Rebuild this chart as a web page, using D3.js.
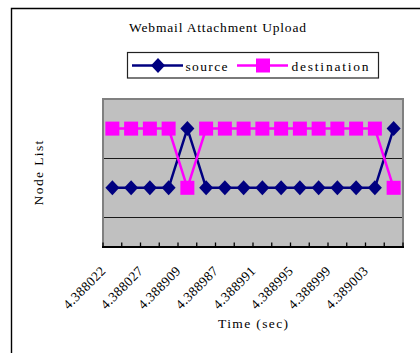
<!DOCTYPE html>
<html>
<head>
<meta charset="utf-8">
<script src="https://cdn.jsdelivr.net/npm/d3@7"></script>
<style>
  html, body { margin: 0; padding: 0; background: #fff; }
  svg { display: block; }
  text { font-family: "Liberation Serif", "DejaVu Serif", serif; font-size: 13.5px; fill: #000; }
</style>
</head>
<body>
<svg id="chart" width="420" height="353"></svg>
<script>
// Packet timestamps (seconds) for each captured event
const categories = [
  "4.388022", "4.388024", "4.388027", "4.388030",
  "4.388909", "4.388983", "4.388987", "4.388989",
  "4.388991", "4.388993", "4.388995", "4.388997",
  "4.388999", "4.389001", "4.389003", "4.389005"
];
// Node index of the sender / receiver at each timestamp
const sourceValues      = [1, 1, 1, 1, 2, 1, 1, 1, 1, 1, 1, 1, 1, 1, 1, 2];
const destinationValues = [2, 2, 2, 2, 1, 2, 2, 2, 2, 2, 2, 2, 2, 2, 2, 1];
// Only every other timestamp is labelled on the axis
const tickLabels = categories.filter((d, i) => i % 2 === 0);
// Horizontal separators between node rows
const gridValues = [0.5, 1.5];
const seriesNames = ["source", "destination"];

const svg = d3.select("#chart");
const plot = { left: 103, right: 403, top: 99, bottom: 247 };
const CHAR_W = 7; // fixed advance per character, monospaced look

// Text helper: fixed-pitch spacing through textLength
function label(sel, str, perChar) {
  return sel.text(str)
    .attr("textLength", str.length * (perChar || CHAR_W))
    .attr("lengthAdjust", "spacing");
}

// Outer chart frame (top and left edges visible)
svg.append("path")
  .attr("d", "M11.5,353 L11.5,8.5 L420,8.5")
  .attr("fill", "none").attr("stroke", "#000").attr("stroke-width", 1.4);

// Title
label(svg.append("text").attr("x", 129).attr("y", 32), "Webmail Attachment Upload", 7.08);

// Scales
const x = d3.scaleBand().domain(categories).range([plot.left, plot.right]).padding(0);
const y = d3.scaleLinear().domain([0, 2.5]).range([plot.bottom, plot.top]);
const cx = d => x(d) + x.bandwidth() / 2;

// Plot area background
svg.append("rect")
  .attr("x", plot.left).attr("y", plot.top)
  .attr("width", plot.right - plot.left).attr("height", plot.bottom - plot.top)
  .attr("fill", "#c0c0c0");

// Gridlines
svg.append("g").selectAll("line").data(gridValues).join("line")
  .attr("x1", plot.left).attr("x2", plot.right)
  .attr("y1", d => Math.round(y(d)) + 0.5).attr("y2", d => Math.round(y(d)) + 0.5)
  .attr("stroke", "#1a1a1a").attr("stroke-width", 1.2);

// Plot area border (left, top, right)
svg.append("path")
  .attr("d", `M${plot.left},${plot.bottom} L${plot.left},${plot.top} L${plot.right},${plot.top} L${plot.right},${plot.bottom}`)
  .attr("fill", "none").attr("stroke", "#808080").attr("stroke-width", 2);

// Category axis with inward ticks at band boundaries
const axisG = svg.append("g");
axisG.append("line")
  .attr("x1", plot.left - 1).attr("x2", plot.right + 1)
  .attr("y1", plot.bottom).attr("y2", plot.bottom)
  .attr("stroke", "#000").attr("stroke-width", 2);
const boundaries = categories.map(d => x(d)).concat([plot.right]);
axisG.selectAll("line.tick").data(boundaries).join("line")
  .attr("class", "tick")
  .attr("x1", d => d).attr("x2", d => d)
  .attr("y1", plot.bottom).attr("y2", plot.bottom - 4.5)
  .attr("stroke", "#000").attr("stroke-width", 1.3);

// Rotated tick labels
axisG.selectAll("text.lbl").data(tickLabels).join("text")
  .attr("class", "lbl")
  .attr("text-anchor", "end")
  .attr("transform", d => `translate(${cx(d) - 6},${plot.bottom + 25}) rotate(-45)`)
  .each(function (d) { label(d3.select(this), d, 6.7); });

// Axis titles
label(svg.append("text").attr("x", 218).attr("y", 328), "Time (sec)");
svg.append("text")
  .attr("transform", `translate(43,${(plot.top + plot.bottom) / 2}) rotate(-90)`)
  .attr("text-anchor", "middle")
  .call(s => label(s, "Node List", 7.2));

// Marker shapes
const diamond = (g, px, py) => g.append("path")
  .attr("d", `M${px},${py - 7.5} L${px + 7},${py} L${px},${py + 7.5} L${px - 7},${py} Z`)
  .attr("fill", "#000080");
const square = (g, px, py) => g.append("rect")
  .attr("x", px - 7).attr("y", py - 7).attr("width", 14).attr("height", 14)
  .attr("fill", "#ff00ff");

const line = d3.line().x(d => cx(d.c)).y(d => y(d.v));
const sourcePts = categories.map((c, i) => ({ c, v: sourceValues[i] }));
const destPts = categories.map((c, i) => ({ c, v: destinationValues[i] }));

// Source series
const sG = svg.append("g");
sG.append("path").datum(sourcePts).attr("d", line)
  .attr("fill", "none").attr("stroke", "#000080").attr("stroke-width", 2.5);
// Destination series
const dG = svg.append("g");
dG.append("path").datum(destPts).attr("d", line)
  .attr("fill", "none").attr("stroke", "#ff00ff").attr("stroke-width", 2.5);
sourcePts.forEach(p => diamond(sG, cx(p.c), y(p.v)));
destPts.forEach(p => square(dG, cx(p.c), y(p.v)));

// Legend
const lg = svg.append("g");
lg.append("rect")
  .attr("x", 127.5).attr("y", 52.5).attr("width", 251).attr("height", 25.5)
  .attr("fill", "#fff").attr("stroke", "#222").attr("stroke-width", 1.2);
const legendItems = [
  { name: seriesNames[0], x0: 132, color: "#000080", marker: diamond, tx: 185.5 },
  { name: seriesNames[1], x0: 237, color: "#ff00ff", marker: square, tx: 291.5 }
];
legendItems.forEach(it => {
  lg.append("line")
    .attr("x1", it.x0).attr("x2", it.x0 + 51).attr("y1", 65.5).attr("y2", 65.5)
    .attr("stroke", it.color).attr("stroke-width", 2.5);
  it.marker(lg, it.x0 + 26, 65.5);
  label(lg.append("text").attr("x", it.tx).attr("y", 70.5), it.name);
});
</script>
</body>
</html>
